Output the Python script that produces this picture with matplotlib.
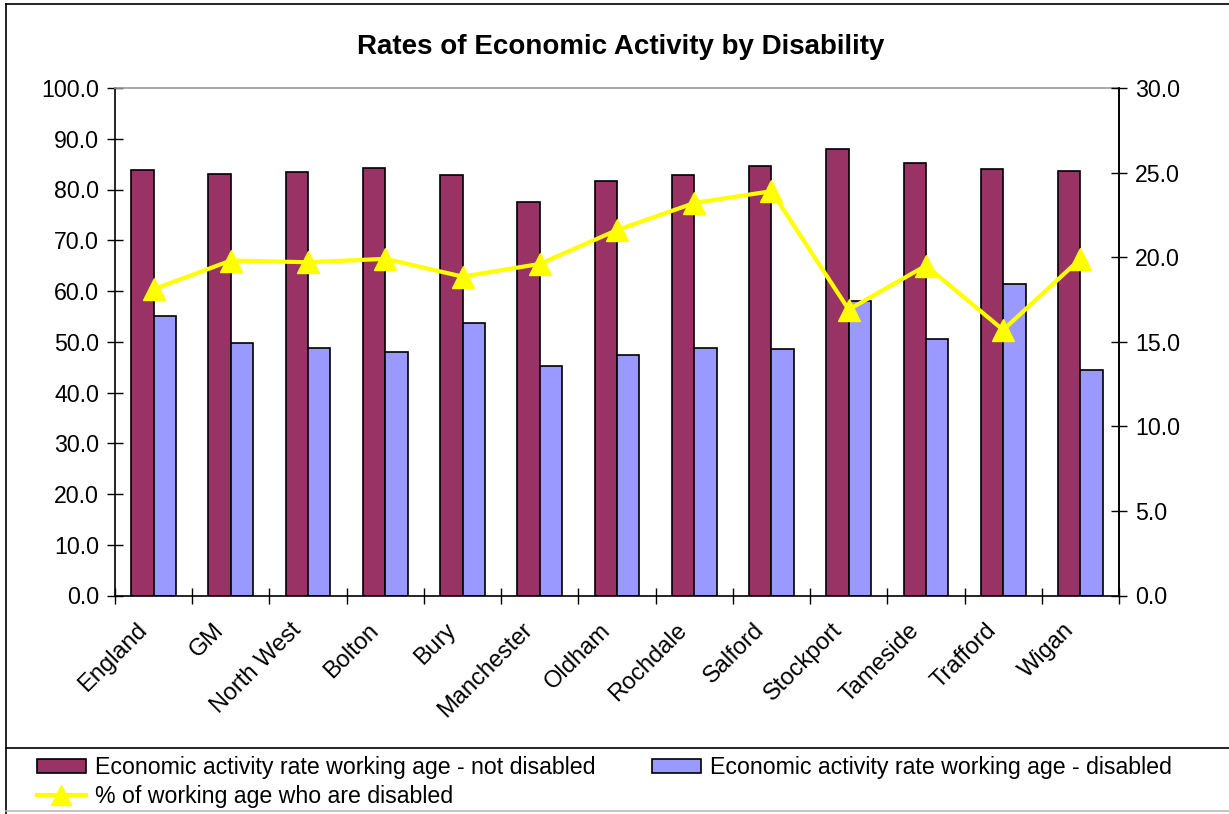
import numpy as np
import matplotlib
matplotlib.use("Agg")
import matplotlib.pyplot as plt
import matplotlib.transforms as mtransforms
from matplotlib.lines import Line2D
from matplotlib.patches import Patch

plt.rcParams['font.family'] = ['Liberation Sans', 'DejaVu Sans']

areas = ['England', 'GM', 'North West', 'Bolton', 'Bury', 'Manchester', 'Oldham',
         'Rochdale', 'Salford', 'Stockport', 'Tameside', 'Trafford', 'Wigan']
not_disabled = [83.8, 83.1, 83.5, 84.2, 82.8, 77.5, 81.7, 82.8, 84.6, 88.0, 85.2, 84.1, 83.7]
disabled = [55.1, 49.8, 48.8, 48.0, 53.6, 45.3, 47.4, 48.8, 48.5, 58.1, 50.6, 61.3, 44.4]
pct_disabled = [18.1, 19.8, 19.7, 19.9, 18.85, 19.6, 21.6, 23.2, 23.9, 16.9, 19.5, 15.7, 19.9]

RED = '#993366'
BLUE = '#9999FF'
YELLOW = '#FFFF00'

W, H = 1229, 814
fig = plt.figure(figsize=(W / 100, H / 100), dpi=100)

# plot area in pixel coordinates
x0, x1, y0, y1 = 115, 1119, 88, 595.5
ax = fig.add_axes([x0 / W, 1 - y1 / H, (x1 - x0) / W, (y1 - y0) / H])

x = np.arange(len(areas))
bw = 0.29
ax.bar(x - bw / 2, not_disabled, bw, color=RED, edgecolor='black', linewidth=1.2)
ax.bar(x + bw / 2, disabled, bw, color=BLUE, edgecolor='black', linewidth=1.2)

ax.set_xlim(-0.5, len(areas) - 0.5)
ax.set_ylim(0, 100)
ax.set_yticks(np.arange(0, 101, 10))
ax.set_yticklabels(['%.1f' % v for v in np.arange(0, 101, 10)])
ax.set_xticks(x)
ax.set_xticklabels(areas, rotation=45, ha='right', rotation_mode='anchor')
ax.set_xticks(np.arange(-0.5, len(areas), 1), minor=True)
ax.tick_params(axis='x', which='major', length=0, pad=17, labelsize=17)
ax.tick_params(axis='x', which='minor', direction='inout', length=11, width=1)
ax.tick_params(axis='y', direction='inout', length=11, width=1, pad=6, labelsize=16.7)

# nudge the slanted category names so their ends sit under the groups
shift = mtransforms.ScaledTranslation(-18 / 100, 0, fig.dpi_scale_trans)
for lab in ax.get_xticklabels():
    lab.set_transform(lab.get_transform() + shift)

for s in ['left', 'bottom', 'right']:
    ax.spines[s].set_color('black')
    ax.spines[s].set_linewidth(1.2)
ax.spines['top'].set_color('#999999')
ax.spines['top'].set_linewidth(1.2)

ax2 = ax.twinx()
ax2.plot(x, pct_disabled, color=YELLOW, linewidth=3, marker='^', markersize=16,
         markeredgecolor=YELLOW)
ax2.set_ylim(0, 30)
ax2.set_yticks(np.arange(0, 31, 5))
ax2.set_yticklabels(['%.1f' % v for v in np.arange(0, 31, 5)])
ax2.tick_params(axis='y', direction='inout', length=11, width=1, pad=6, labelsize=16.7)
ax2.spines['right'].set_color('black')
ax2.spines['right'].set_linewidth(1.2)
ax2.spines['top'].set_visible(False)
ax2.spines['left'].set_visible(False)
ax2.spines['bottom'].set_visible(False)

fig.text(621 / W, 1 - 47 / H, 'Rates of Economic Activity by Disability',
         ha='center', va='center', fontsize=20, fontweight='bold')

# chart border and legend separator
def hline(ypx, color='black'):
    fig.add_artist(Line2D([6 / W, 1], [1 - ypx / H, 1 - ypx / H], color=color,
                          linewidth=1.2, transform=fig.transFigure))

fig.add_artist(Line2D([6 / W, 6 / W], [1 - 4 / H, 0], color='black', linewidth=1.2,
                      transform=fig.transFigure))
hline(4)
hline(748)
hline(811, '#bbbbbb')

handles = [
    Patch(facecolor=RED, edgecolor='black', linewidth=1.2),
    Line2D([], [], color=YELLOW, linewidth=3, marker='^', markersize=14, markeredgecolor=YELLOW),
    Patch(facecolor=BLUE, edgecolor='black', linewidth=1.2),
]
labels = ['Economic activity rate working age - not disabled',
          '% of working age who are disabled',
          'Economic activity rate working age - disabled']
fig.legend(handles, labels, ncol=2, loc='upper left',
           bbox_to_anchor=(37 / W, 1 - 756 / H), frameon=False, fontsize=16.7,
           handlelength=2.1, handleheight=0.55, handletextpad=0.4,
           columnspacing=2.45, labelspacing=0.25, borderpad=0, borderaxespad=0)

fig.savefig('out.png', dpi=100, facecolor='white')
